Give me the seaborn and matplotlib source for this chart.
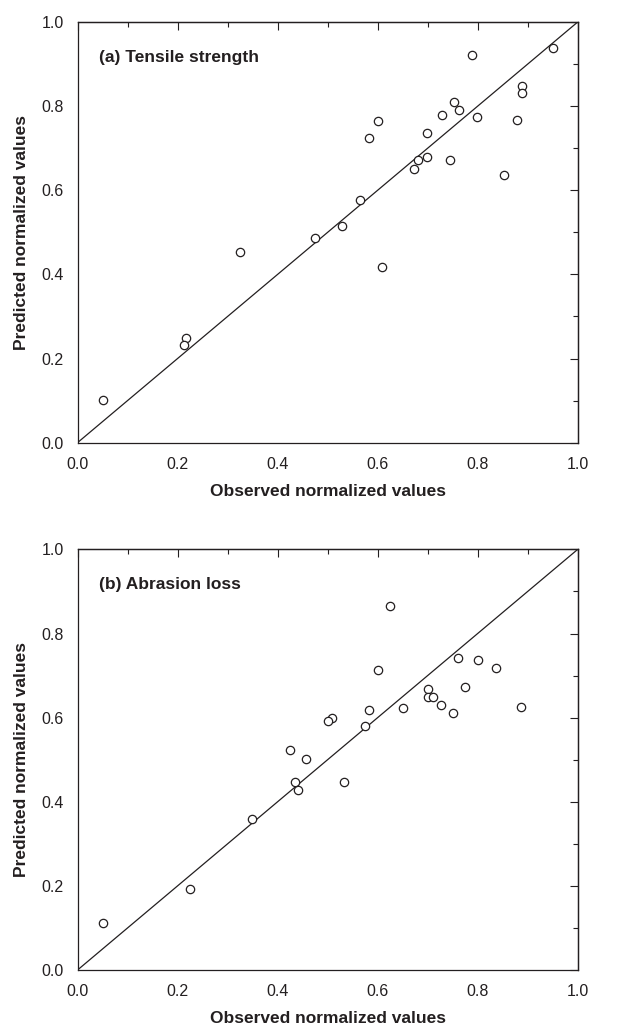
"""
Observed vs predicted normalized values for two properties (parity plots).
"""

import numpy as np
import pandas as pd
import seaborn as sns
import matplotlib.pyplot as plt
from matplotlib.ticker import MultipleLocator

# (a) Tensile strength
tensile_observed = [0.950, 0.789, 0.888, 0.888, 0.753, 0.762, 0.728, 0.798, 0.879,
                    0.600, 0.582, 0.698, 0.698, 0.680, 0.672, 0.744, 0.852, 0.564,
                    0.528, 0.474, 0.325, 0.608, 0.216, 0.212, 0.050]
tensile_predicted = [0.939, 0.922, 0.849, 0.831, 0.810, 0.790, 0.780, 0.775, 0.767,
                     0.765, 0.725, 0.737, 0.679, 0.672, 0.650, 0.671, 0.636, 0.578,
                     0.516, 0.487, 0.454, 0.418, 0.250, 0.233, 0.101]

# (b) Abrasion loss
abrasion_observed = [0.624, 0.600, 0.760, 0.800, 0.836, 0.774, 0.700, 0.700, 0.711,
                     0.726, 0.750, 0.650, 0.887, 0.583, 0.574, 0.508, 0.500, 0.425,
                     0.457, 0.435, 0.440, 0.533, 0.349, 0.225, 0.050]
abrasion_predicted = [0.865, 0.713, 0.741, 0.738, 0.719, 0.672, 0.667, 0.648, 0.650,
                      0.631, 0.612, 0.623, 0.625, 0.618, 0.581, 0.599, 0.591, 0.524,
                      0.501, 0.447, 0.428, 0.447, 0.360, 0.193, 0.111]

panel_titles = ['(a) Tensile strength', '(b) Abrasion loss']
tick_values = [0.0, 0.2, 0.4, 0.6, 0.8, 1.0]

INK = '#231f20'


def style_axes(ax):
    ax.set_xlim(0, 1)
    ax.set_ylim(0, 1)
    ax.set_xticks(tick_values)
    ax.set_yticks(tick_values)
    ax.xaxis.set_minor_locator(MultipleLocator(0.1))
    ax.yaxis.set_minor_locator(MultipleLocator(0.1))
    ax.tick_params(which='major', direction='out', length=7, width=0.8,
                   colors=INK, labelsize=11.5, pad=3)
    ax.tick_params(which='minor', direction='out', length=4, width=0.8, colors=INK)
    for spine in ax.spines.values():
        spine.set_visible(True)
        spine.set_linewidth(0.9)
        spine.set_color(INK)

    # mirrored ticks on top and right, pointing inward
    top = ax.secondary_xaxis('top')
    right = ax.secondary_yaxis('right')
    for sec, axis in ((top, top.xaxis), (right, right.yaxis)):
        axis.set_major_locator(MultipleLocator(0.2))
        axis.set_minor_locator(MultipleLocator(0.1))
        sec.tick_params(which='major', direction='in', length=6, width=0.8, colors=INK)
        sec.tick_params(which='minor', direction='in', length=3.5, width=0.8, colors=INK)
        sec.tick_params(labeltop=False, labelright=False)
        for spine in sec.spines.values():
            spine.set_linewidth(0.9)
            spine.set_color(INK)


def main():
    sns.set_style('white')
    plt.rcParams['font.family'] = ['Liberation Sans', 'DejaVu Sans']

    fig = plt.figure(figsize=(6.23, 10.29), dpi=100)
    ax_a = fig.add_axes([0.1244, 0.5698, 0.8029, 0.4088])
    ax_b = fig.add_axes([0.1244, 0.0573, 0.8029, 0.4088])

    panels = [
        (ax_a, tensile_observed, tensile_predicted, panel_titles[0]),
        (ax_b, abrasion_observed, abrasion_predicted, panel_titles[1]),
    ]

    for ax, obs, pred, title in panels:
        df = pd.DataFrame({'observed': obs, 'predicted': pred})
        ax.axline((0, 0), slope=1, color=INK, linewidth=0.9, zorder=1)
        sns.scatterplot(data=df, x='observed', y='predicted', ax=ax,
                        marker='o', s=36, facecolor='white', edgecolor=INK,
                        linewidth=0.9, zorder=3)
        style_axes(ax)
        ax.set_xlabel('Observed normalized values', fontsize=12.5,
                      fontweight='bold', color=INK, labelpad=9)
        ax.set_ylabel('Predicted normalized values', fontsize=12.5,
                      fontweight='bold', color=INK, labelpad=9)
        ax.text(0.042, 0.906, title, transform=ax.transAxes, fontsize=12.5,
                fontweight='bold', color=INK, ha='left', va='baseline')

    fig.savefig('out.png', dpi=100)


if __name__ == '__main__':
    main()
